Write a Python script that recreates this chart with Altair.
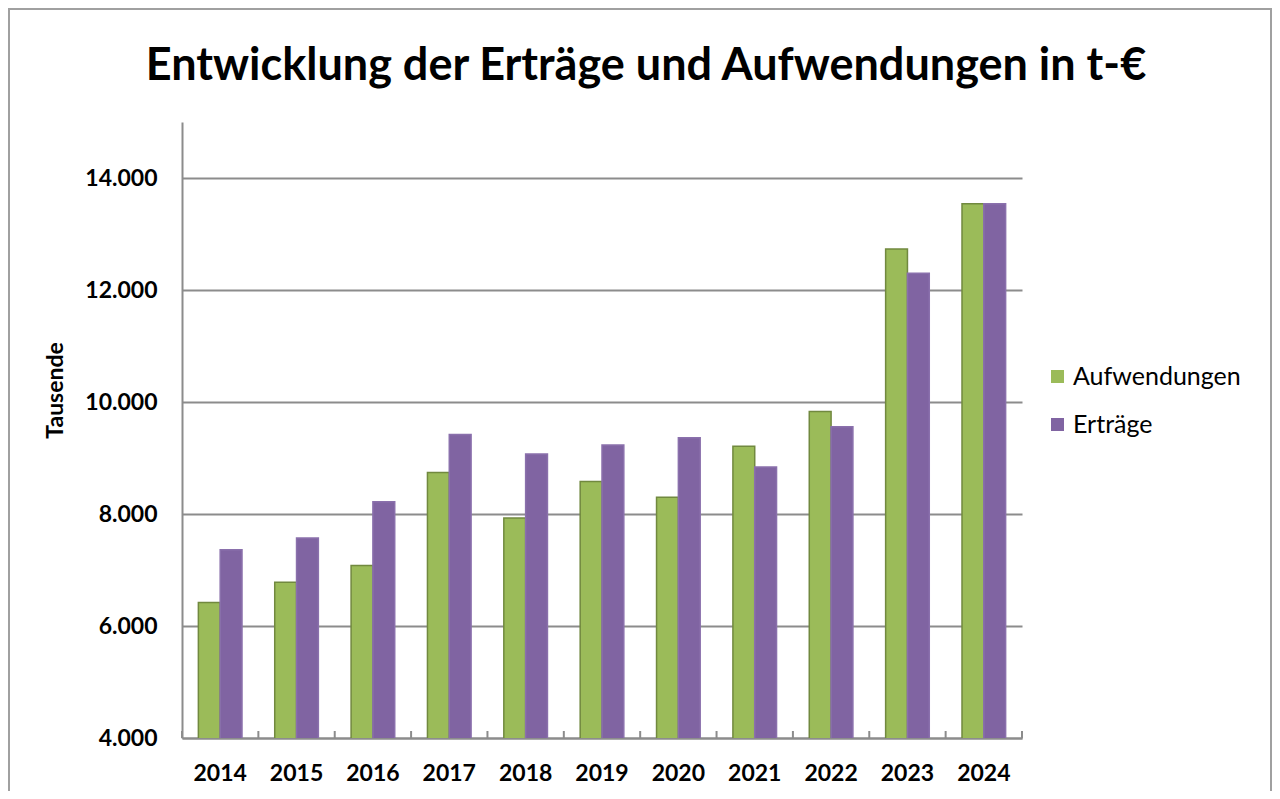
import altair as alt
import pandas as pd

# ---- data ----
years = ["2014", "2015", "2016", "2017", "2018", "2019", "2020", "2021", "2022", "2023", "2024"]
aufwendungen = [6420, 6780, 7080, 8740, 7930, 8580, 8300, 9210, 9830, 12730, 13540]
ertraege = [7360, 7570, 8220, 9420, 9070, 9230, 9360, 8840, 9560, 12300, 13540]
series_names = ["Aufwendungen", "Erträge"]
fill_colors = ["#9BBB59", "#8064A2"]
stroke_colors = ["#71893F", "#8A70AC"]
y_ticks = [4000, 6000, 8000, 10000, 12000, 14000]
title_text = "Entwicklung der Erträge und Aufwendungen in t-€"
y_title = "Tausende"

rows = []
for i, yr in enumerate(years):
    rows.append({"year": yr, "series": series_names[0], "value": aufwendungen[i]})
    rows.append({"year": yr, "series": series_names[1], "value": ertraege[i]})
df = pd.DataFrame(rows)
df_years = pd.DataFrame({"year": years})
df_one = pd.DataFrame({"label": [title_text]})

# ---- layout ----
W, H = 840, 616
PAD_L, PAD_T = 174, 114
TOTAL_W, TOTAL_H = 1264, 783
PAD_R = TOTAL_W - PAD_L - W
PAD_B = TOTAL_H - PAD_T - H
FONT = "Lato"
GRID = "#8c8c8c"

p_inner = 3 / 7
p_outer = 3 / 14
step = W / len(years)
half_gap = step * p_inner / 2

xscale = alt.Scale(domain=years, paddingInner=p_inner, paddingOuter=p_outer)
x_axis = alt.Axis(
    title=None, labelFont=FONT, labelFontSize=23, labelFontWeight="bold",
    labelColor="black", labelAngle=0, labelPadding=24, ticks=False, tickSize=0,
    domainColor=GRID, domainWidth=2, grid=False,
)

bars = alt.Chart(df).mark_bar(strokeWidth=1.5, clip=True).encode(
    x=alt.X("year:N", scale=xscale, sort=years, axis=x_axis),
    xOffset=alt.XOffset("series:N", scale=alt.Scale(domain=series_names, paddingInner=0, paddingOuter=0)),
    y=alt.Y(
        "value:Q",
        scale=alt.Scale(domain=[4000, 15000], zero=False, nice=False),
        axis=alt.Axis(
            values=y_ticks, title=y_title,
            labelExpr="replace(format(datum.value, ',.0f'), ',', '.')",
            labelFont=FONT, labelFontSize=23, labelFontWeight="bold", labelColor="black",
            labelPadding=25, ticks=False, tickSize=0,
            domainColor=GRID, domainWidth=2, grid=True, gridColor=GRID, gridWidth=2,
            titleFont=FONT, titleFontSize=23, titleFontWeight="bold", titleColor="black",
            titleX=-127, titleY=268, titleAngle=270, titleAlign="center", titleBaseline="middle",
        ),
    ),
    color=alt.Color(
        "series:N",
        scale=alt.Scale(domain=series_names, range=fill_colors),
        legend=alt.Legend(
            title=None, orient="none", legendX=863, legendY=242, direction="vertical",
            symbolType="square", symbolSize=169, symbolStrokeWidth=0,
            labelFont=FONT, labelFontSize=25, labelColor="black", labelOffset=3,
            labelLimit=400, rowPadding=22,
        ),
    ),
    stroke=alt.Stroke("series:N", scale=alt.Scale(domain=series_names, range=stroke_colors), legend=None),
)

ticks = alt.Chart(df_years).mark_rule(color=GRID, strokeWidth=2, xOffset=-half_gap).encode(
    x=alt.X("year:N", scale=xscale, sort=years, bandPosition=0, axis=x_axis),
    y=alt.value(H - 7),
    y2=alt.value(H),
)

end_tick = alt.Chart(df_years.head(1)).mark_rule(color=GRID, strokeWidth=2).encode(
    x=alt.value(W),
    y=alt.value(H - 7),
    y2=alt.value(H),
)

border = alt.Chart(df_years.head(1)).mark_rect(filled=False, color="#a0a0a0", strokeWidth=2, clip=False).encode(
    x=alt.value(-PAD_L + 1),
    x2=alt.value(W + PAD_R - 1),
    y=alt.value(-PAD_T + 1),
    y2=alt.value(H + PAD_B + 20),
)

title = alt.Chart(df_one).mark_text(
    font=FONT, fontSize=45, fontWeight="bold", color="black", align="center", baseline="alphabetic"
).encode(
    text="label:N",
    x=alt.value(W / 2 + 44),
    y=alt.value(-42),
)

chart = alt.layer(border, bars, ticks, end_tick, title).properties(
    width=W,
    height=H,
    background="white",
    autosize=alt.AutoSizeParams(type="none"),
    padding={"left": PAD_L, "top": PAD_T, "right": PAD_R, "bottom": PAD_B},
).configure_view(strokeWidth=0, stroke=None)

chart.save("out.html", embed_options={"renderer": "svg", "actions": False})
